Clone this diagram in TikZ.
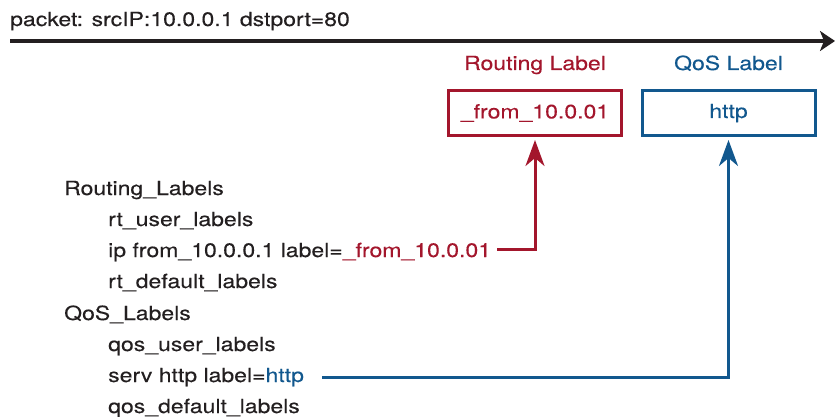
\documentclass[tikz,border=0pt]{standalone}
\usepackage{fontspec}
\setmainfont{TeX Gyre Heros}[FakeStretch=1.18,FakeBold=0.2]
\usetikzlibrary{arrows.meta}
\definecolor{rtred}{RGB}{163,22,44}
\definecolor{qosblue}{RGB}{18,88,142}
\definecolor{ink}{RGB}{35,31,32}
\begin{document}
\begin{tikzpicture}[x=1pt,y=-1pt,
  txt/.style={anchor=base west,inner sep=0pt,text=ink,font=\fontsize{19.5}{23}\selectfont},
  lblbox/.style={draw,line width=3pt,minimum width=173pt,minimum height=45pt,inner sep=0pt,font=\fontsize{19.5}{23}\selectfont},
  head/.style={anchor=base,inner sep=0pt,font=\fontsize{19.5}{23}\selectfont},
  link/.style={line width=3pt,-{Stealth[length=26pt,width=19pt,inset=8pt]},shorten >=3pt}]
\useasboundingbox (0,0) rectangle (835,417);

% packet flow
\node[txt] (pkt) at (10,26) {packet: srcIP:10.0.0.1 dstport=80};
\coordinate (flowstart) at (10,41);
\coordinate (flowend) at (835,41);
\draw[ink,line width=3.3pt,-{Stealth[length=15pt,width=20pt,inset=4pt]}] (flowstart) -- (flowend);

% resulting labels
\node[head,text=rtred] (rthead) at (535,70) {Routing Label};
\node[head,text=qosblue] (qoshead) at (728.5,70) {QoS Label};
\node[lblbox,draw=rtred,text=rtred] (rtbox) at (535,113) {\_from\_10.0.01};
\node[lblbox,draw=qosblue,text=qosblue] (qosbox) at (728.5,113) {http};

% label configuration
\node[txt] (rtlabels) at (64,195) {Routing\_Labels};
\node[txt] (rtuser) at (108,226) {rt\_user\_labels};
\node[txt] (rtip) at (108,257) {ip from\_10.0.0.1 label=\textcolor{rtred}{\_from\_10.0.01}};
\node[txt] (rtdef) at (108,288) {rt\_default\_labels};
\node[txt] (qoslabels) at (64,320) {QoS\_Labels};
\node[txt] (qosuser) at (108,351) {qos\_user\_labels};
\node[txt] (qosserv) at (108,382) {serv http label=\textcolor{qosblue}{http}};
\node[txt] (qosdef) at (108,413) {qos\_default\_labels};

% label lookups
\coordinate (rtstart) at (497,249);
\coordinate (qosstart) at (322,377);
\draw[link,rtred] (rtstart) -| (rtbox.south);
\draw[link,qosblue] (qosstart) -| (qosbox.south);
\end{tikzpicture}
\end{document}
